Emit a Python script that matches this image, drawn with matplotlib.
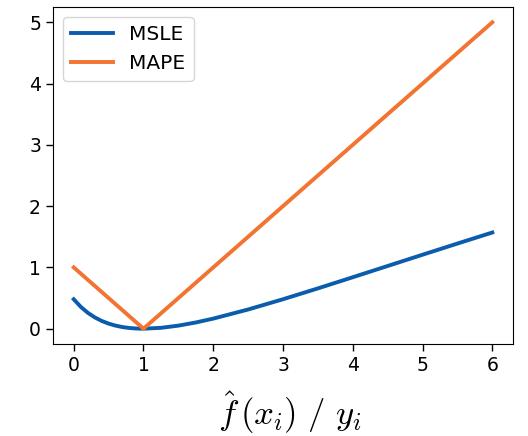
import matplotlib
matplotlib.use("Agg")
import matplotlib.pyplot as plt

# Ratio of prediction to target, and the loss at each ratio
msle_ratio = [0.0, 0.1, 0.2, 0.3, 0.4, 0.5, 0.6, 0.7, 0.8, 0.9, 1.0,
              1.25, 1.5, 1.75, 2.0, 2.5, 3.0, 3.5, 4.0, 4.5, 5.0, 5.5, 6.0]
msle_loss = [0.4805, 0.3574, 0.2609, 0.1856, 0.1272, 0.0828, 0.0498, 0.0264,
             0.0111, 0.0026, 0.0, 0.0139, 0.0498, 0.1014, 0.1644, 0.3132,
             0.4805, 0.6576, 0.8396, 1.0233, 1.2069, 1.3892, 1.5694]

mape_ratio = [0.0, 1.0, 6.0]
mape_loss = [1.0, 0.0, 5.0]

x_ticks = [0, 1, 2, 3, 4, 5, 6]
y_ticks = [0, 1, 2, 3, 4, 5]

plt.rcParams["mathtext.fontset"] = "cm"

fig = plt.figure(figsize=(5.28, 4.36), dpi=100)
ax = fig.add_axes([0.100, 0.211, 0.872, 0.773])

ax.plot(msle_ratio, msle_loss, color="#0B5CAD", lw=2.8, label="MSLE")
ax.plot(mape_ratio, mape_loss, color="#F37430", lw=2.8, label="MAPE")

ax.set_xticks(x_ticks)
ax.set_yticks(y_ticks)
ax.tick_params(labelsize=13.5, length=5, width=1)
ax.set_xlim(-0.3, 6.3)
ax.set_ylim(-0.25, 5.25)

ax.set_xlabel(r"$\hat{f}\,(x_i)\ /\ y_i$", fontsize=25, labelpad=4)
ax.xaxis.set_label_coords(0.515, -0.135)
ax.legend(loc="upper left", fontsize=14.5, handlelength=2.1)

fig.savefig("out.png", dpi=100)
